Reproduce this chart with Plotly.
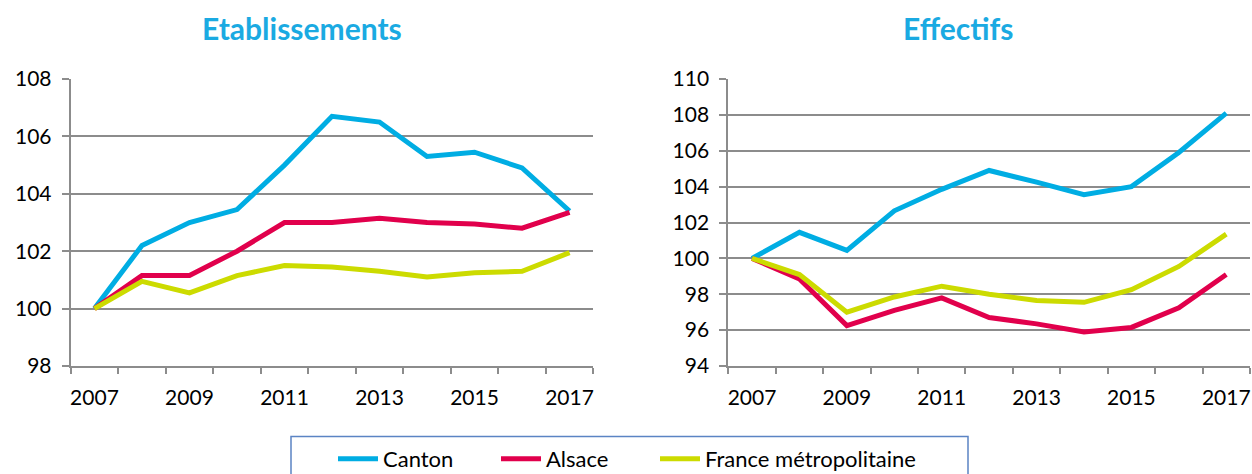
import plotly.graph_objects as go

years = list(range(2007, 2018))
tick_years = [2007, 2009, 2011, 2013, 2015, 2017]

etab_canton = [100, 102.2, 103.0, 103.45, 105.0, 106.7, 106.5, 105.3, 105.45, 104.9, 103.4]
etab_alsace = [100, 101.15, 101.15, 102.0, 103.0, 103.0, 103.15, 103.0, 102.95, 102.8, 103.35]
etab_france = [100, 100.95, 100.55, 101.15, 101.5, 101.45, 101.3, 101.1, 101.25, 101.3, 101.95]

eff_canton = [100, 101.45, 100.45, 102.65, 103.85, 104.9, 104.25, 103.55, 104.0, 105.9, 108.1]
eff_alsace = [100, 98.85, 96.25, 97.1, 97.8, 96.7, 96.35, 95.9, 96.15, 97.25, 99.1]
eff_france = [100, 99.1, 97.0, 97.85, 98.45, 98.0, 97.65, 97.55, 98.25, 99.55, 101.35]

series_names = ["Canton", "Alsace", "France métropolitaine"]
colors = ["#00ADE3", "#E1004C", "#CCDB00"]
legend_ids = ["legend", "legend2", "legend3"]

W, H = 1252, 474
FONT = "Lato"
GRID = "#8C8C8C"

fig = go.Figure()

left = [etab_canton, etab_alsace, etab_france]
right = [eff_canton, eff_alsace, eff_france]
for i, (name, col) in enumerate(zip(series_names, colors)):
    fig.add_trace(go.Scatter(x=years, y=left[i], mode="lines", name=name,
                             line=dict(color=col, width=5), xaxis="x", yaxis="y",
                             showlegend=True, legendgroup=name, legend=legend_ids[i]))
for i, (name, col) in enumerate(zip(series_names, colors)):
    fig.add_trace(go.Scatter(x=years, y=right[i], mode="lines", name=name,
                             line=dict(color=col, width=5), xaxis="x2", yaxis="y2",
                             showlegend=False, legendgroup=name))

ydom = [(H - 366) / H, (H - 79) / H]

def xaxis(domain, anchor):
    return dict(domain=domain, anchor=anchor, range=[2006.5, 2017.5],
                tickvals=tick_years, ticktext=[str(t) for t in tick_years],
                ticks="outside", ticklen=12, tickcolor="rgba(0,0,0,0)",
                showgrid=False, zeroline=False,
                showline=True, linecolor=GRID, linewidth=2,
                minor=dict(ticks="outside", ticklen=6, tickcolor=GRID, tickwidth=2,
                           tick0=2006.5, dtick=1, showgrid=False),
                tickfont=dict(family=FONT, size=21, color="#000000"),
                fixedrange=True)

def yaxis(domain, anchor, rng, dtick):
    return dict(domain=domain, anchor=anchor, range=rng, dtick=dtick, tick0=rng[0],
                ticks="outside", ticklen=7, tickcolor=GRID, tickwidth=2,
                showgrid=True, gridcolor=GRID, gridwidth=2,
                zeroline=False, showline=True, linecolor=GRID, linewidth=2,
                ticklabelstandoff=6,
                tickfont=dict(family=FONT, size=21, color="#000000"),
                fixedrange=True)

def legend_at(px_text_start):
    return dict(orientation="h", x=(px_text_start - 50) / W, xanchor="left",
                y=(H - 438) / H, yanchor="top",
                borderwidth=0, bgcolor="rgba(0,0,0,0)",
                font=dict(family=FONT, size=22, color="#000000"),
                itemwidth=40)

fig.update_layout(
    width=W, height=H,
    margin=dict(l=0, r=0, t=0, b=0, autoexpand=False),
    paper_bgcolor="white", plot_bgcolor="white",
    xaxis=xaxis([70.7 / W, 593.3 / W], "y"),
    yaxis=yaxis(ydom, "x", [98, 108], 2),
    xaxis2=xaxis([728.3 / W, 1250 / W], "y2"),
    yaxis2=yaxis(ydom, "x2", [94, 110], 2),
    showlegend=True,
    legend=legend_at(383),
    legend2=legend_at(546),
    legend3=legend_at(705),
    shapes=[dict(type="rect", xref="paper", yref="paper",
                 x0=291 / W, x1=968 / W, y0=(H - 490) / H, y1=(H - 436.5) / H,
                 line=dict(color="#5B84C4", width=1.5), fillcolor="rgba(0,0,0,0)",
                 layer="below")],
    annotations=[
        dict(text="<b>Etablissements</b>", x=302 / W, y=(H - 28) / H,
             xref="paper", yref="paper", showarrow=False,
             xanchor="center", yanchor="middle",
             font=dict(family=FONT, size=30, color="#1AAAE2")),
        dict(text="<b>Effectifs</b>", x=958 / W, y=(H - 28) / H,
             xref="paper", yref="paper", showarrow=False,
             xanchor="center", yanchor="middle",
             font=dict(family=FONT, size=30, color="#1AAAE2")),
    ],
)

fig.write_html("out.html", config={"displayModeBar": False},
               post_script="document.body.style.margin='0';document.body.style.overflow='hidden';")
